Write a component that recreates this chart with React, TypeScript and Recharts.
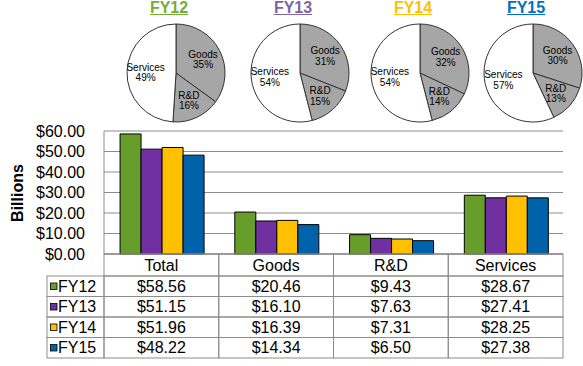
import React from "react";
import {
  BarChart,
  Bar,
  XAxis,
  YAxis,
  CartesianGrid,
  PieChart,
  Pie,
  Cell,
} from "recharts";

const categories = ["Total", "Goods", "R&D", "Services"];
const years = ["FY12", "FY13", "FY14", "FY15"];
const fy12 = [58.56, 20.46, 9.43, 28.67];
const fy13 = [51.15, 16.1, 7.63, 27.41];
const fy14 = [51.96, 16.39, 7.31, 28.25];
const fy15 = [48.22, 14.34, 6.5, 27.38];
const yTicks = [0, 10, 20, 30, 40, 50, 60];

const pieNames = ["Goods", "R&D", "Services"];
const pie12 = [35, 16, 49];
const pie13 = [31, 15, 54];
const pie14 = [32, 14, 54];
const pie15 = [30, 13, 57];

const barColors = ["#679e2b", "#7030a0", "#ffc000", "#0062aa"];
const titleColors = ["#78ad34", "#8064a2", "#ffc000", "#0070c0"];
const sliceColors = ["#a6a6a6", "#a6a6a6", "#ffffff"];

const FONT = "'Liberation Sans', Arial, sans-serif";
const W = 583;
const H = 366;
const M = { top: 131, right: 20, bottom: 8, left: 0 };
const Y_W = 104;
const X_H = 104;
const HEAD_H = 22;
const ROW_H = 20.5;
const bandW = (W - M.left - M.right - Y_W) / categories.length;

const series = [fy12, fy13, fy14, fy15];
const barData = categories.map((c, i) => {
  const row: Record<string, string | number> = { category: c };
  years.forEach((y, k) => (row[y] = series[k][i]));
  return row;
});

const pies = [pie12, pie13, pie14, pie15].map((p) =>
  p.map((v, i) => ({ name: pieNames[i], value: v }))
);
const pieCx = [171, 295, 415, 528];
const PIE_CY = 68;
const PIE_R = 49;

const money = (v: number) => `$${v.toFixed(2)}`;

function TableTick(props: any) {
  const { x, y, payload, index } = props;
  const left = x - bandW / 2;
  const cells = [];
  cells.push(
    <rect key="h" x={left} y={y} width={bandW} height={HEAD_H} fill="none" stroke="#8c8c8c" />
  );
  series.forEach((s, r) => {
    const ry = y + HEAD_H + r * ROW_H;
    cells.push(
      <g key={r}>
        <rect x={left} y={ry} width={bandW} height={ROW_H} fill="none" stroke="#8c8c8c" />
        <text x={x} y={ry + ROW_H / 2 + 5.5} textAnchor="middle" fontSize={16} fill="#000" fontFamily={FONT}>
          {money(s[index])}
        </text>
      </g>
    );
    if (index === 0) {
      const lx = left - 57;
      cells.push(
        <g key={"l" + r}>
          <rect x={lx} y={ry} width={57} height={ROW_H} fill="none" stroke="#8c8c8c" />
          <rect x={lx + 3.5} y={ry + 7} width={6.5} height={6.5} fill={barColors[r]} stroke="#000" strokeWidth={0.8} />
          <text x={lx + 11} y={ry + ROW_H / 2 + 5.5} fontSize={16} fill="#000" fontFamily={FONT}>
            {years[r]}
          </text>
        </g>
      );
    }
  });
  return (
    <g>
      {cells}
      <text x={x} y={y + HEAD_H / 2 + 6} textAnchor="middle" fontSize={16} fill="#000" fontFamily={FONT}>
        {payload.value}
      </text>
    </g>
  );
}

function PieLabel(props: any) {
  const { cx, cy, midAngle, outerRadius, name, value } = props;
  const rad = (Math.PI / 180) * midAngle;
  const r = outerRadius * 0.62;
  const lx = cx + r * Math.cos(rad);
  const ly = cy - r * Math.sin(rad);
  return (
    <text x={lx} y={ly} textAnchor="middle" fontSize={10} fill="#000" fontFamily={FONT}>
      <tspan x={lx} dy={-1.5}>{name}</tspan>
      <tspan x={lx} dy={10.5}>{value}%</tspan>
    </text>
  );
}

export default function App() {
  return (
    <div style={{ position: "relative", width: W, height: H, fontFamily: FONT, background: "#fff" }}>
      <style>{`body{margin:0}`}</style>
      <div style={{ position: "absolute", left: 0, top: 0 }}>
        <PieChart width={W} height={125}>
          {pies.map((d, i) => (
            <Pie
              key={i}
              data={d}
              dataKey="value"
              nameKey="name"
              cx={pieCx[i]}
              cy={PIE_CY}
              outerRadius={PIE_R}
              startAngle={90}
              endAngle={-270}
              label={PieLabel}
              labelLine={false}
              isAnimationActive={false}
            >
              {d.map((_, k) => (
                <Cell key={k} fill={sliceColors[k]} stroke="#333" strokeWidth={1} />
              ))}
            </Pie>
          ))}
        </PieChart>
      </div>
      {years.map((y, i) => (
        <div
          key={y}
          style={{
            position: "absolute",
            left: pieCx[i] - 2,
            top: 0,
            transform: "translateX(-50%)",
            color: titleColors[i],
            fontWeight: "bold",
            fontSize: 16,
            textDecoration: "underline",
            lineHeight: "16px",
          }}
        >
          {y}
        </div>
      ))}
      <div style={{ position: "absolute", left: 0, top: 0 }}>
        <BarChart width={W} height={H} data={barData} margin={M} barCategoryGap="14%" barGap={0}>
          <CartesianGrid vertical={false} stroke="#8c8c8c" />
          <XAxis
            dataKey="category"
            height={X_H}
            tickSize={0}
            tickMargin={0}
            tickLine={false}
            axisLine={{ stroke: "#8c8c8c" }}
            tick={TableTick}
            interval={0}
          />
          <YAxis
            width={Y_W}
            domain={[0, 60]}
            ticks={yTicks}
            interval={0}
            tickSize={0}
            tickMargin={19}
            tickLine={false}
            axisLine={{ stroke: "#8c8c8c" }}
            tickFormatter={money}
            tick={{ fontSize: 16, fill: "#000", fontFamily: FONT }}
          />
          {years.map((y, i) => (
            <Bar key={y} dataKey={y} fill={barColors[i]} stroke="#000" strokeWidth={1} isAnimationActive={false} />
          ))}
        </BarChart>
      </div>
      <div
        style={{
          position: "absolute",
          left: 18,
          top: 193,
          transform: "translate(-50%, -50%) rotate(-90deg)",
          fontWeight: "bold",
          fontSize: 16,
          whiteSpace: "nowrap",
        }}
      >
        Billions
      </div>
    </div>
  );
}
